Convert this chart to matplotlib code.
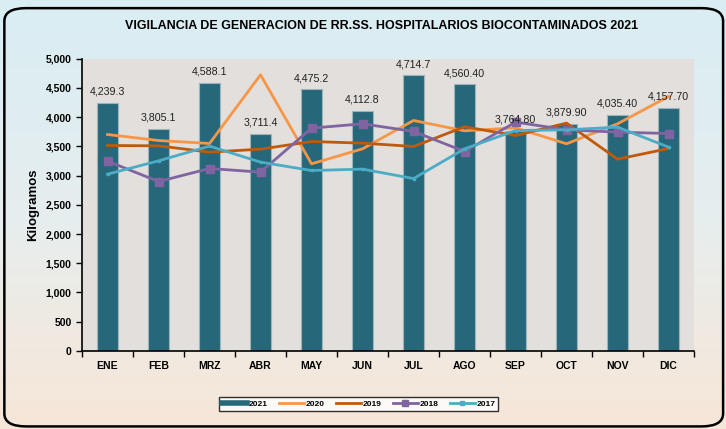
import numpy as np
import matplotlib
matplotlib.use('Agg')
import matplotlib.pyplot as plt
from matplotlib.patches import FancyBboxPatch
from matplotlib.lines import Line2D
from matplotlib.colors import LinearSegmentedColormap
from matplotlib.ticker import FuncFormatter, MultipleLocator

# DATOS
meses = ['ENE', 'FEB', 'MRZ', 'ABR', 'MAY', 'JUN', 'JUL', 'AGO', 'SEP', 'OCT', 'NOV', 'DIC']
v2021 = [4239.3, 3805.1, 4588.1, 3711.4, 4475.2, 4112.8, 4714.7, 4560.40, 3764.80, 3879.90, 4035.40, 4157.70]
etiquetas2021 = ['4,239.3', '3,805.1', '4,588.1', '3,711.4', '4,475.2', '4,112.8', '4,714.7',
                 '4,560.40', '3,764.80', '3,879.90', '4,035.40', '4,157.70']
v2020 = [3704, 3601, 3550, 4726, 3202, 3459, 3944, 3767, 3818, 3545, 3887, 4355]
v2019 = [3516, 3510, 3402, 3453, 3584, 3556, 3499, 3836, 3687, 3899, 3282, 3464]
v2018 = [3248, 2899, 3122, 3060, 3813, 3887, 3756, 3413, 3916, 3784, 3744, 3721]
v2017 = [3025, 3253, 3505, 3231, 3088, 3111, 2950, 3459, 3772, 3784, 3830, 3488]

plt.rcParams['font.family'] = ['Liberation Sans', 'DejaVu Sans']

fig = plt.figure(figsize=(7.26, 4.29), dpi=100)

# fondo degradado
bg = fig.add_axes([0, 0, 1, 1], zorder=-2)
cmap = LinearSegmentedColormap.from_list('fondo', ['#d9edf4', '#e6eeee', '#f7e6d8'])
grad = np.linspace(0, 1, 256).reshape(-1, 1)
bg.imshow(grad, aspect='auto', cmap=cmap, extent=[0, 1, 0, 1], origin='upper')
bg.add_patch(FancyBboxPatch((0.006, 0.006), 0.99, 0.975,
                            boxstyle='round,pad=0,rounding_size=0.03',
                            transform=bg.transAxes, fill=False,
                            edgecolor='black', linewidth=1.8))
bg.set_xlim(0, 1)
bg.set_ylim(0, 1)
bg.axis('off')

ax = fig.add_axes([0.113, 0.182, 0.843, 0.681])
ax.set_facecolor('#e2dfdc')
x = np.arange(len(meses))

c21, c20, c19, c18, c17 = '#26687a', '#f79646', '#c05a0a', '#8064a2', '#4bacc6'

ax.bar(x, v2021, width=0.4, color=c21, edgecolor='#9fb3ba', linewidth=0.8, zorder=2)
for xi, v, t in zip(x, v2021, etiquetas2021):
    ax.text(xi, v + 110, t, ha='center', va='bottom', fontsize=7.7, color='#222222', zorder=5)

ax.plot(x, v2020, color=c20, linewidth=2, zorder=3)
ax.plot(x, v2019, color=c19, linewidth=2, zorder=3)
ax.plot(x, v2018, color=c18, linewidth=2, marker='s', markersize=6, zorder=3)
ax.plot(x, v2017, color=c17, linewidth=2, marker='s', markersize=2, zorder=3)

ax.set_xlim(-0.5, 11.5)
ax.set_ylim(0, 5000)
ax.yaxis.set_major_locator(MultipleLocator(500))
ax.yaxis.set_major_formatter(FuncFormatter(lambda v, p: f'{int(v):,}'))
ax.set_xticks(x)
ax.set_xticklabels(meses)
ax.set_xticks(np.arange(-0.5, 12, 1), minor=True)
ax.tick_params(axis='x', which='major', length=0, pad=7, labelsize=7.5)
ax.tick_params(axis='x', which='minor', length=4, direction='out', width=1)
ax.tick_params(axis='y', length=4, width=1, direction='out', labelsize=7.5)
for lab in ax.get_xticklabels() + ax.get_yticklabels():
    lab.set_fontweight('bold')
for s in ['top', 'right']:
    ax.spines[s].set_visible(False)
ax.spines['left'].set_linewidth(1.2)
ax.spines['bottom'].set_linewidth(1.2)

ax.set_ylabel('Kilogramos', fontsize=9.5, fontweight='bold', labelpad=5)

fig.text(0.525, 0.94, 'VIGILANCIA DE GENERACION DE RR.SS. HOSPITALARIOS BIOCONTAMINADOS 2021',
         ha='center', va='center', fontsize=9, fontweight='bold')

handles = [
    Line2D([], [], color=c21, linewidth=4),
    Line2D([], [], color=c20, linewidth=2),
    Line2D([], [], color=c19, linewidth=2),
    Line2D([], [], color=c18, linewidth=2, marker='s', markersize=5),
    Line2D([], [], color=c17, linewidth=2, marker='s', markersize=3),
]
leg = ax.legend(handles, ['2021', '2020', '2019', '2018', '2017'], loc='center',
                bbox_to_anchor=(0.452, -0.182), ncol=5, frameon=True, numpoints=1,
                fancybox=False, edgecolor='black', fontsize=6, handlelength=3.0,
                columnspacing=1.35, borderpad=0.35, handletextpad=0.2)
leg.get_frame().set_linewidth(1)
for t in leg.get_texts():
    t.set_fontweight('bold')

fig.savefig('out.png', dpi=100)
